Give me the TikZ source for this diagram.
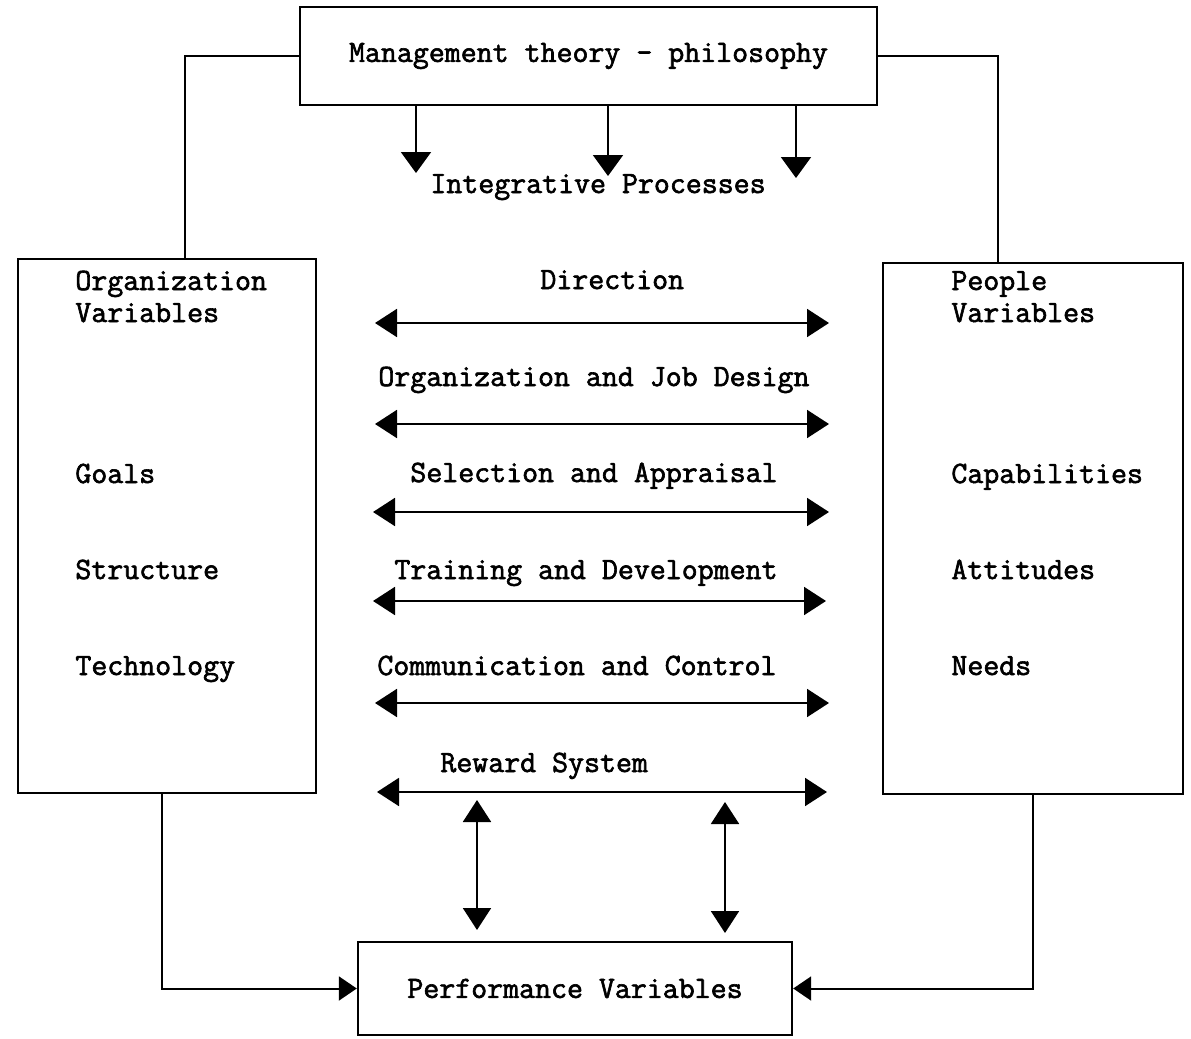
\documentclass[tikz,border=0pt]{standalone}
\usepackage{fontspec}
\setmonofont{Latin Modern Mono}[FakeBold=2]
\usetikzlibrary{arrows.meta}
\usetikzlibrary{positioning}

\begin{document}
\begin{tikzpicture}[x=0.5pt,y=-0.5pt,
  every node/.style={font=\fontsize{15.5}{18}\selectfont\ttfamily},
  box/.style={draw,line width=1.2pt,inner sep=0pt},
  lbl/.style={anchor=base west,inner sep=0pt},
  con/.style={line width=1pt},
  bigtip/.style={-{Triangle[length=10.5pt,width=15pt]}},
  dbl/.style={{Triangle[length=11pt,width=14pt]}-{Triangle[length=11pt,width=14pt]}},
  smalltip/.style={-{Triangle[length=9pt,width=12pt]}}]
  \useasboundingbox (0,0) rectangle (1191,1039);
  \node[box,minimum width=288.5pt,minimum height=49pt] (mgmt) at (588.5,56) {Management theory - philosophy};
  \node[box,minimum width=149pt,minimum height=267pt] (org) at (167,526) {};
  \node[box,minimum width=150pt,minimum height=265.5pt] (ppl) at (1033,528.5) {};
  \node[box,minimum width=217pt,minimum height=46.5pt] (perf) at (575,988.5) {Performance Variables};

  \node[lbl] (integ) at (430,193) {Integrative Processes};

  \node[lbl] (org-t1) at (75,290) {Organization};
  \node[lbl] (org-t2) at (75,322) {Variables};
  \node[lbl] (goals) at (75,483) {Goals};
  \node[lbl] (struct) at (75,579) {Structure};
  \node[lbl] (tech) at (75,675) {Technology};

  \node[lbl] (ppl-t1) at (951,290) {People};
  \node[lbl] (ppl-t2) at (951,322) {Variables};
  \node[lbl] (capab) at (951,483) {Capabilities};
  \node[lbl] (attit) at (951,579) {Attitudes};
  \node[lbl] (needs) at (951,675) {Needs};

  \node[lbl] (dir) at (540,289) {Direction};
  \node[lbl] (ojd) at (378,386) {Organization and Job Design};
  \node[lbl] (sel) at (410,482) {Selection and Appraisal};
  \node[lbl] (trn) at (394,579) {Training and Development};
  \node[lbl] (com) at (377,675) {Communication and Control};
  \node[lbl] (rew) at (440,772) {Reward System};

  \coordinate (ip-a) at (416,173);
  \coordinate (ip-b) at (608,176);
  \coordinate (ip-c) at (796,178);
  \draw[con,bigtip] (ip-a |- mgmt.south) -- (ip-a);
  \draw[con,bigtip] (ip-b |- mgmt.south) -- (ip-b);
  \draw[con,bigtip] (ip-c |- mgmt.south) -- (ip-c);

  \coordinate (dir-l) at (375,323);
  \coordinate (dir-r) at (829,323);
  \coordinate (ojd-l) at (375,424);
  \coordinate (ojd-r) at (829,424);
  \coordinate (sel-l) at (373,512);
  \coordinate (sel-r) at (829,512);
  \coordinate (trn-l) at (373,601);
  \coordinate (trn-r) at (826,601);
  \coordinate (com-l) at (375,703);
  \coordinate (com-r) at (829,703);
  \coordinate (rew-l) at (377,792);
  \coordinate (rew-r) at (827,792);
  \draw[con,dbl] (dir-l) -- (dir-r);
  \draw[con,dbl] (ojd-l) -- (ojd-r);
  \draw[con,dbl] (sel-l) -- (sel-r);
  \draw[con,dbl] (trn-l) -- (trn-r);
  \draw[con,dbl] (com-l) -- (com-r);
  \draw[con,dbl] (rew-l) -- (rew-r);

  \coordinate (rp-a1) at (477,800);
  \coordinate (rp-a2) at (477,930);
  \coordinate (rp-b1) at (725,802);
  \coordinate (rp-b2) at (725,933);
  \draw[con,dbl] (rp-a1) -- (rp-a2);
  \draw[con,dbl] (rp-b1) -- (rp-b2);

  \draw[con] ([xshift=9pt]org.north) |- (mgmt.west);
  \draw[con] (mgmt.east) -| ([xshift=-17.5pt]ppl.north);
  \draw[con,smalltip] ([xshift=-2.5pt]org.south) |- (perf.west);
  \draw[con,smalltip] (ppl.south) |- (perf.east);
\end{tikzpicture}
\end{document}
